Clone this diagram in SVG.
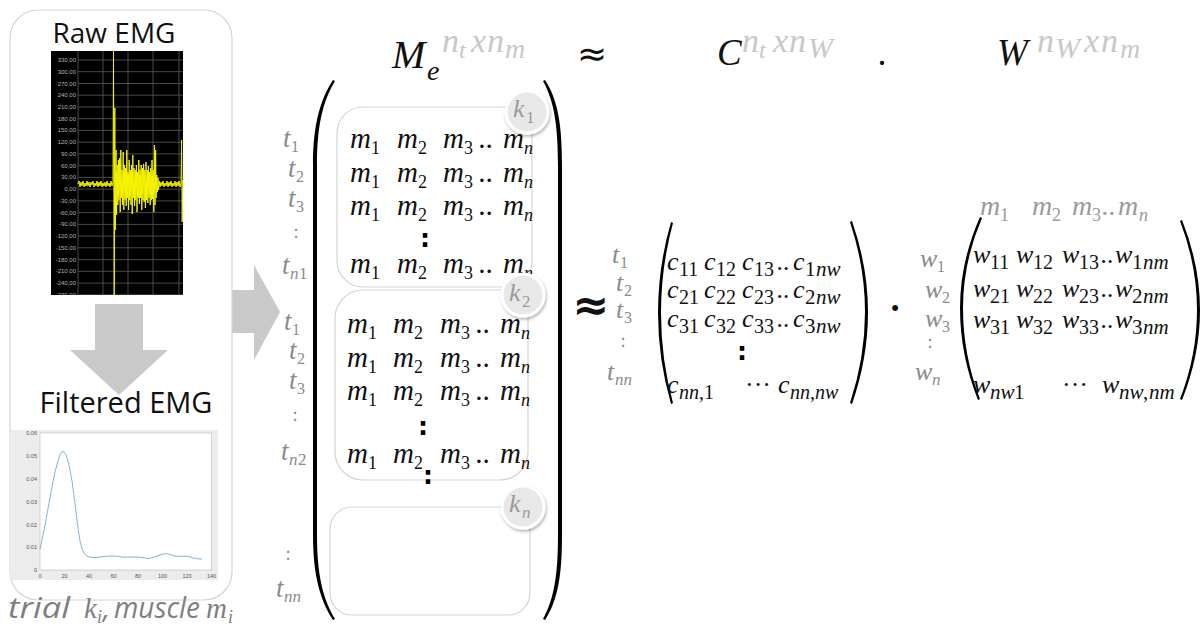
<svg xmlns="http://www.w3.org/2000/svg" width="1203" height="632" viewBox="0 0 1203 632">
<defs>
<style>
.mi{font-family:"Liberation Serif",serif;font-style:italic;fill:#111}
.up{font-style:normal}
.g{fill:#8a8a8a}
.lg{fill:#c8c8c8}
.sans{font-family:"Open Sans","Liberation Sans",sans-serif}
.box{fill:#fff;stroke:#d4d4d4;stroke-width:1.2}
.vd{font-family:"DejaVu Sans",sans-serif;font-weight:bold;fill:#000;text-anchor:middle;font-size:25px}
.gd{font-family:"DejaVu Sans",sans-serif;fill:#8a8a8a;text-anchor:middle;font-size:18px}
.arrow{fill:#c9c9c9}
.grid{stroke:#5c5c5c;stroke-width:.8}
.ax{font-family:"Liberation Sans",sans-serif;font-size:6px;fill:#b4b4b4;text-anchor:end}
.fx{font-family:"Liberation Sans",sans-serif;font-size:5.5px;fill:#555}
.paren{fill:#000}
.kc{fill:#e8e8e8;stroke:#fff;stroke-width:3;filter:url(#sh)}
.kt{font-family:"Liberation Serif",serif;font-style:italic;fill:#9a9a9a}
</style>
<filter id="sh" x="-40%" y="-40%" width="180%" height="180%">
<feDropShadow dx="1" dy="2" stdDeviation="1.8" flood-color="#000" flood-opacity="0.3"/>
</filter>
<clipPath id="rawclip"><rect x="51" y="51" width="132" height="244"/></clipPath>
</defs>
<rect width="1203" height="632" fill="#fff"/>

<g id="connectors">
<polygon class="arrow" points="95,304 143,304 143,350 168,350 119,395 70,350 95,350"/>
<polygon class="arrow" points="232,290 254,290 254,265 280,312 254,360 254,333 232,333"/>
</g>

<g id="panel-emg">
<rect x="10" y="10" width="222" height="590" rx="28" fill="none" stroke="#d4d4d4" stroke-width="1.2"/>
<text class="sans" x="114" y="43" font-size="28" text-anchor="middle" fill="#111">Raw EMG</text>
<rect x="51" y="51" width="132" height="244" fill="#000"/>
<g clip-path="url(#rawclip)">
<g class="grid">
<line x1="78" y1="60" x2="183" y2="60"/><line x1="78" y1="71.7" x2="183" y2="71.7"/><line x1="78" y1="83.5" x2="183" y2="83.5"/><line x1="78" y1="95.2" x2="183" y2="95.2"/><line x1="78" y1="107" x2="183" y2="107"/><line x1="78" y1="118.7" x2="183" y2="118.7"/><line x1="78" y1="130.4" x2="183" y2="130.4"/><line x1="78" y1="142.2" x2="183" y2="142.2"/><line x1="78" y1="153.9" x2="183" y2="153.9"/><line x1="78" y1="165.7" x2="183" y2="165.7"/><line x1="78" y1="177.4" x2="183" y2="177.4"/><line x1="78" y1="189.1" x2="183" y2="189.1"/><line x1="78" y1="200.9" x2="183" y2="200.9"/><line x1="78" y1="212.6" x2="183" y2="212.6"/><line x1="78" y1="224.4" x2="183" y2="224.4"/><line x1="78" y1="236.1" x2="183" y2="236.1"/><line x1="78" y1="247.8" x2="183" y2="247.8"/><line x1="78" y1="259.6" x2="183" y2="259.6"/><line x1="78" y1="271.3" x2="183" y2="271.3"/><line x1="78" y1="283.1" x2="183" y2="283.1"/><line x1="78" y1="294.8" x2="183" y2="294.8"/>
<line x1="78" y1="51" x2="78" y2="295"/><line x1="103" y1="51" x2="103" y2="295"/><line x1="128" y1="51" x2="128" y2="295"/><line x1="153" y1="51" x2="153" y2="295"/><line x1="179" y1="51" x2="179" y2="295"/>
</g>
<g class="ax">
<text x="76" y="62">330,00</text><text x="76" y="73.7">300,00</text><text x="76" y="85.5">270,00</text><text x="76" y="97.2">240,00</text><text x="76" y="109">210,00</text><text x="76" y="120.7">180,00</text><text x="76" y="132.4">150,00</text><text x="76" y="144.2">120,00</text><text x="76" y="155.9">90,00</text><text x="76" y="167.7">60,00</text><text x="76" y="179.4">30,00</text><text x="76" y="191.1">0,00</text><text x="76" y="202.9">-30,00</text><text x="76" y="214.6">-60,00</text><text x="76" y="226.4">-90,00</text><text x="76" y="238.1">-120,00</text><text x="76" y="249.8">-150,00</text><text x="76" y="261.6">-180,00</text><text x="76" y="273.3">-210,00</text><text x="76" y="285.1">-240,00</text><text x="76" y="296.8">-270,00</text>
</g>
<polyline fill="none" stroke="#f4f400" stroke-width="1" points="78,184 79,181 80,187 81,182 82,186 83,181 84,187 85,183 86,186 87,181 88,186 89,182 90,187 91,182 92,185 93,181 94,187 95,183 96,186 97,181 98,187 99,182 100,186 101,181 102,187 103,183 104,186 105,182 106,187 107,181 108,186 109,183 110,187 111,181 112,186 113,182 113.5,51 114.2,295 114.8,108 115.3,230 116,150 116.6,215 117.2,165 117.8,205 118.4,160 119,200 119.6,158 120.2,212 120.8,150 121.4,198 122,170 122.6,205 123.2,152 123.8,210 124.4,165 125,200 125.6,168 126.2,206 126.8,150 127.4,198 128,172 128.6,210 129.2,160 129.8,200 130.4,170 131,205 131.6,165 132.2,214 132.8,155 133.4,198 134,168 134.6,206 135.2,170 135.8,200 136.4,165 137,212 137.6,172 138.2,198 138.8,160 139.4,204 140,170 140.6,198 141.2,165 141.8,210 142.4,168 143,200 143.6,164 144.2,202 144.8,170 145.4,208 146,162 146.6,200 147.2,170 147.8,203 148.4,166 149,198 149.6,172 150.2,205 150.8,168 151.4,200 152,160 152.6,199 153.2,170 153.8,212 154.4,145 155,205 155.6,150 156.2,198 156.8,175 157.4,192 158,178 158.6,190 159.2,181 160,187 161,182 162,186 163,181 164,187 165,183 166,186 167,181 168,187 169,182 170,186 171,181 172,187 173,183 174,186 175,181 176,187 177,182 178,186 179,181 180,187 181,183 181.6,140 182.2,222 182.8,180"/>
<polyline fill="none" stroke="#f4f400" stroke-width="1.6" points="116,172 118,196 120,175 122,195 124,172 126,197 128,174 130,196 132,173 134,195 136,172 138,197 140,175 142,194 144,173 146,196 148,174 150,195 152,176 154,193 156,178"/>
</g>
<text class="sans" x="126" y="413" font-size="29" text-anchor="middle" fill="#111">Filtered EMG</text>
<rect x="10" y="430" width="208" height="150" fill="#ececec"/>
<rect x="40" y="433" width="171.7" height="137" fill="#fff" stroke="#bdbdbd" stroke-width="0.6"/>
<g class="fx" text-anchor="end">
<text x="37" y="435">0.06</text><text x="37" y="458">0.05</text><text x="37" y="481">0.04</text><text x="37" y="504">0.03</text><text x="37" y="527">0.02</text><text x="37" y="549">0.01</text><text x="37" y="572">0</text>
</g>
<g class="fx" text-anchor="middle">
<text x="40" y="578">0</text><text x="64.5" y="578">20</text><text x="89" y="578">40</text><text x="113.5" y="578">60</text><text x="138" y="578">80</text><text x="162.5" y="578">100</text><text x="187" y="578">120</text><text x="211.5" y="578">140</text>
</g>
<polyline fill="none" stroke="#7aa7d6" stroke-width="0.9" points="40,549 43,535 46,520 49,503 52,487 55,472 58,461 60,455 62,451.5 64,452 66,455 68,461 70,470 72,481 74,496 76,512 78,528 80,541 82,549 84,553.5 87,556 90,557.2 95,557.6 100,557 107,556.2 113,556 118,556.3 123,557.2 130,557 138,557 143,557.5 148,558.5 152,557.8 157,556 162,554.3 166,553.6 170,554.5 175,556.2 182,556.4 188,556.2 193,558 198,558.8 202,559"/>
<text font-size="29" fill="#7f7f7f"><tspan class="sans" x="8" y="618" font-style="italic" textLength="62" lengthAdjust="spacingAndGlyphs">trial</tspan><tspan x="84" y="618" font-family="Liberation Serif" font-style="italic">k</tspan><tspan x="97" y="623" font-family="Liberation Serif" font-style="italic" font-size="18">i</tspan><tspan class="sans" x="103" y="618" font-style="italic">,</tspan><tspan class="sans" x="114" y="618" font-style="italic" textLength="86" lengthAdjust="spacingAndGlyphs">muscle</tspan><tspan x="206" y="618" font-family="Liberation Serif" font-style="italic">m</tspan><tspan x="228" y="623" font-family="Liberation Serif" font-style="italic" font-size="18">i</tspan></text>
</g>

<g id="header">
<text class="mi" font-size="40" x="392" y="68">M</text>
<text class="mi" font-size="28" x="427" y="80">e</text>
<text class="mi lg" font-size="34"><tspan x="442" y="52">n</tspan><tspan x="459" y="58" font-size="24">t</tspan><tspan x="471" y="52">x</tspan><tspan x="487" y="52">n</tspan><tspan x="505" y="58" font-size="28">m</tspan></text>
<text x="592" y="66" font-family="DejaVu Sans" font-size="36" text-anchor="middle" fill="#111">≈</text>
<text class="mi" font-size="37" x="717" y="65">C</text>
<text class="mi lg" font-size="34"><tspan x="742" y="52">n</tspan><tspan x="759" y="58" font-size="24">t</tspan><tspan x="773" y="52">x</tspan><tspan x="789" y="52">n</tspan><tspan x="808" y="58" font-size="30">W</tspan></text>
<text x="882" y="65" font-family="Liberation Serif" font-size="36" text-anchor="middle" fill="#111">.</text>
<text class="mi" font-size="37" x="997" y="65">W</text>
<text class="mi lg" font-size="34"><tspan x="1037" y="52">n</tspan><tspan x="1055" y="58" font-size="30">W</tspan><tspan x="1084" y="52">x</tspan><tspan x="1101" y="52">n</tspan><tspan x="1120" y="58" font-size="28">m</tspan></text>
</g>

<g id="matrix-Me">
<path class="paren" d="M333,80 C320,100 313,125 313,165 L313,535 C313,575 320,600 333,620 L335,619 C323,599 317,575 317,535 L317,165 C317,125 323,101 335,81 Z"/>
<path class="paren" d="M545,80 C558,100 562,125 562,165 L562,535 C562,575 558,600 545,620 L543,619 C554,599 558,575 558,535 L558,165 C558,125 554,101 543,81 Z"/>
<rect class="box" x="337" y="107" width="195" height="180" rx="26"/>
<rect class="box" x="335" y="290" width="193" height="190" rx="28"/>
<rect class="box" x="330" y="507" width="200" height="108" rx="22"/>
<g class="mi" font-size="29">
<text><tspan x="350" y="148">m</tspan><tspan class="up" x="371" y="154" font-size="18">1</tspan><tspan x="397" y="148">m</tspan><tspan class="up" x="418" y="154" font-size="18">2</tspan><tspan x="443" y="148">m</tspan><tspan class="up" x="464" y="154" font-size="18">3</tspan><tspan x="479" y="148">..</tspan><tspan x="503" y="148">m</tspan><tspan x="524" y="154" font-size="18">n</tspan></text>
<text><tspan x="350" y="182">m</tspan><tspan class="up" x="371" y="188" font-size="18">1</tspan><tspan x="397" y="182">m</tspan><tspan class="up" x="418" y="188" font-size="18">2</tspan><tspan x="443" y="182">m</tspan><tspan class="up" x="464" y="188" font-size="18">3</tspan><tspan x="479" y="182">..</tspan><tspan x="503" y="182">m</tspan><tspan x="524" y="188" font-size="18">n</tspan></text>
<text><tspan x="350" y="215">m</tspan><tspan class="up" x="371" y="221" font-size="18">1</tspan><tspan x="397" y="215">m</tspan><tspan class="up" x="418" y="221" font-size="18">2</tspan><tspan x="443" y="215">m</tspan><tspan class="up" x="464" y="221" font-size="18">3</tspan><tspan x="479" y="215">..</tspan><tspan x="503" y="215">m</tspan><tspan x="524" y="221" font-size="18">n</tspan></text>
<text><tspan x="350" y="273">m</tspan><tspan class="up" x="371" y="279" font-size="18">1</tspan><tspan x="397" y="273">m</tspan><tspan class="up" x="418" y="279" font-size="18">2</tspan><tspan x="443" y="273">m</tspan><tspan class="up" x="464" y="279" font-size="18">3</tspan><tspan x="479" y="273">..</tspan><tspan x="503" y="273">m</tspan><tspan x="524" y="279" font-size="18">n</tspan></text>
<text><tspan x="347" y="333">m</tspan><tspan class="up" x="368" y="339" font-size="18">1</tspan><tspan x="393" y="333">m</tspan><tspan class="up" x="414" y="339" font-size="18">2</tspan><tspan x="440" y="333">m</tspan><tspan class="up" x="461" y="339" font-size="18">3</tspan><tspan x="476" y="333">..</tspan><tspan x="500" y="333">m</tspan><tspan x="521" y="339" font-size="18">n</tspan></text>
<text><tspan x="347" y="367">m</tspan><tspan class="up" x="368" y="373" font-size="18">1</tspan><tspan x="393" y="367">m</tspan><tspan class="up" x="414" y="373" font-size="18">2</tspan><tspan x="440" y="367">m</tspan><tspan class="up" x="461" y="373" font-size="18">3</tspan><tspan x="476" y="367">..</tspan><tspan x="500" y="367">m</tspan><tspan x="521" y="373" font-size="18">n</tspan></text>
<text><tspan x="347" y="400">m</tspan><tspan class="up" x="368" y="406" font-size="18">1</tspan><tspan x="393" y="400">m</tspan><tspan class="up" x="414" y="406" font-size="18">2</tspan><tspan x="440" y="400">m</tspan><tspan class="up" x="461" y="406" font-size="18">3</tspan><tspan x="476" y="400">..</tspan><tspan x="500" y="400">m</tspan><tspan x="521" y="406" font-size="18">n</tspan></text>
<text><tspan x="347" y="463">m</tspan><tspan class="up" x="368" y="469" font-size="18">1</tspan><tspan x="393" y="463">m</tspan><tspan class="up" x="414" y="469" font-size="18">2</tspan><tspan x="440" y="463">m</tspan><tspan class="up" x="461" y="469" font-size="18">3</tspan><tspan x="476" y="463">..</tspan><tspan x="500" y="463">m</tspan><tspan x="521" y="469" font-size="18">n</tspan></text>
</g>
<text class="vd" x="425" y="247">:</text>
<text class="vd" x="423" y="435">:</text>
<text class="vd" x="428" y="484">:</text>
<g class="mi g" font-size="27">
<text><tspan x="283" y="147">t</tspan><tspan class="up" x="291" y="152" font-size="16">1</tspan></text>
<text><tspan x="288" y="177">t</tspan><tspan class="up" x="296" y="182" font-size="16">2</tspan></text>
<text><tspan x="288" y="207">t</tspan><tspan class="up" x="296" y="212" font-size="16">3</tspan></text>
<text><tspan x="282" y="274">t</tspan><tspan x="290" y="279" font-size="17">n</tspan><tspan class="up" x="299" y="279" font-size="17">1</tspan></text>
<text><tspan x="284" y="330">t</tspan><tspan class="up" x="292" y="335" font-size="16">1</tspan></text>
<text><tspan x="289" y="359">t</tspan><tspan class="up" x="297" y="364" font-size="16">2</tspan></text>
<text><tspan x="289" y="389">t</tspan><tspan class="up" x="297" y="394" font-size="16">3</tspan></text>
<text><tspan x="281" y="460">t</tspan><tspan x="289" y="465" font-size="17">n</tspan><tspan class="up" x="298" y="465" font-size="17">2</tspan></text>
<text><tspan x="276" y="597">t</tspan><tspan x="284" y="602" font-size="17">nn</tspan></text>
</g>
<text class="gd" x="296" y="238">:</text>
<text class="gd" x="295" y="421">:</text>
<text class="gd" x="288" y="560">:</text>
<circle class="kc" cx="527" cy="112" r="21"/>
<text class="kt" font-size="26"><tspan x="513" y="117">k</tspan><tspan x="526" y="123" font-size="17" font-style="normal">1</tspan></text>
<circle class="kc" cx="523" cy="295" r="21"/>
<text class="kt" font-size="26"><tspan x="509" y="301">k</tspan><tspan x="522" y="307" font-size="17" font-style="normal">2</tspan></text>
<circle class="kc" cx="523" cy="507" r="21"/>
<text class="kt" font-size="26"><tspan x="509" y="512">k</tspan><tspan x="522" y="518" font-size="17">n</tspan></text>
</g>

<g id="matrix-C">
<text x="591" y="320" font-family="DejaVu Sans" font-weight="bold" font-size="44" text-anchor="middle" fill="#111">≈</text>
<path class="paren" d="M671,222 Q658,267 658,313 Q658,359 671,404 L673,403 Q661,359 661,313 Q661,267 673,223 Z"/>
<path class="paren" d="M852,221 Q868,267 868,312 Q868,358 852,404 L850,403 Q865,358 865,312 Q865,267 850,222 Z"/>
<g class="mi g" font-size="26">
<text><tspan x="612" y="263">t</tspan><tspan class="up" x="620" y="268" font-size="16">1</tspan></text>
<text><tspan x="616" y="291">t</tspan><tspan class="up" x="624" y="296" font-size="16">2</tspan></text>
<text><tspan x="616" y="318">t</tspan><tspan class="up" x="624" y="323" font-size="16">3</tspan></text>
<text><tspan x="607" y="380">t</tspan><tspan x="615" y="385" font-size="17">nn</tspan></text>
</g>
<text class="gd" x="623" y="347">:</text>
<g class="mi" font-size="26">
<text><tspan x="667" y="270">c</tspan><tspan class="up" x="679" y="276" font-size="20">11</tspan><tspan x="704" y="270">c</tspan><tspan class="up" x="716" y="276" font-size="20">12</tspan><tspan x="742" y="270">c</tspan><tspan class="up" x="754" y="276" font-size="20">13</tspan><tspan x="777" y="270">..</tspan><tspan x="793" y="270">c</tspan><tspan class="up" x="805" y="276" font-size="21">1</tspan><tspan x="816" y="276" font-size="21">nw</tspan></text>
<text><tspan x="667" y="298">c</tspan><tspan class="up" x="679" y="304" font-size="20">21</tspan><tspan x="704" y="298">c</tspan><tspan class="up" x="716" y="304" font-size="20">22</tspan><tspan x="742" y="298">c</tspan><tspan class="up" x="754" y="304" font-size="20">23</tspan><tspan x="777" y="298">..</tspan><tspan x="793" y="298">c</tspan><tspan class="up" x="805" y="304" font-size="21">2</tspan><tspan x="816" y="304" font-size="21">nw</tspan></text>
<text><tspan x="667" y="327">c</tspan><tspan class="up" x="679" y="333" font-size="20">31</tspan><tspan x="704" y="327">c</tspan><tspan class="up" x="716" y="333" font-size="20">32</tspan><tspan x="742" y="327">c</tspan><tspan class="up" x="754" y="333" font-size="20">33</tspan><tspan x="777" y="327">..</tspan><tspan x="793" y="327">c</tspan><tspan class="up" x="805" y="333" font-size="21">3</tspan><tspan x="816" y="333" font-size="21">nw</tspan></text>
<text><tspan x="667" y="393">c</tspan><tspan x="679" y="399" font-size="20">nn</tspan><tspan class="up" x="699" y="399" font-size="20">,1</tspan><tspan class="up" x="745" y="393">···</tspan><tspan x="778" y="393">c</tspan><tspan x="790" y="399" font-size="20">nn</tspan><tspan class="up" x="810" y="399" font-size="20">,</tspan><tspan x="815" y="399" font-size="20">nw</tspan></text>
</g>
<text class="vd" x="742" y="360">:</text>
</g>

<g id="matrix-W">
<text x="895" y="315" font-family="Liberation Sans" font-size="22" text-anchor="middle" fill="#111">•</text>
<path class="paren" d="M980,217 Q960,262 960,308 Q960,355 978,400 L980,399 Q963,355 963,308 Q963,262 982,218 Z"/>
<path class="paren" d="M1182,220 Q1200,265 1200,310 Q1200,355 1182,400 L1180,399 Q1197,355 1197,310 Q1197,265 1180,221 Z"/>
<g class="mi" font-size="28" style="fill:#9a9a9a">
<text><tspan x="980" y="215">m</tspan><tspan class="up" x="1000" y="221" font-size="18">1</tspan><tspan x="1032" y="215">m</tspan><tspan class="up" x="1052" y="221" font-size="18">2</tspan><tspan x="1072" y="215">m</tspan><tspan class="up" x="1092" y="221" font-size="18">3</tspan><tspan x="1102" y="215">..</tspan><tspan x="1118" y="215">m</tspan><tspan x="1139" y="221" font-size="18">n</tspan></text>
</g>
<g class="mi g" font-size="26">
<text><tspan x="920" y="267">w</tspan><tspan class="up" x="937" y="272" font-size="16">1</tspan></text>
<text><tspan x="925" y="298">w</tspan><tspan class="up" x="942" y="303" font-size="16">2</tspan></text>
<text><tspan x="925" y="327">w</tspan><tspan class="up" x="942" y="332" font-size="16">3</tspan></text>
<text><tspan x="915" y="380">w</tspan><tspan x="932" y="385" font-size="17">n</tspan></text>
</g>
<text class="gd" x="930" y="348">:</text>
<g class="mi" font-size="26">
<text><tspan x="973" y="263">w</tspan><tspan class="up" x="990" y="269" font-size="20">11</tspan><tspan x="1016" y="263">w</tspan><tspan class="up" x="1033" y="269" font-size="20">12</tspan><tspan x="1062" y="263">w</tspan><tspan class="up" x="1079" y="269" font-size="20">13</tspan><tspan x="1101" y="263">..</tspan><tspan x="1115" y="263">w</tspan><tspan class="up" x="1132" y="269" font-size="21">1</tspan><tspan x="1143" y="269" font-size="21">nm</tspan></text>
<text><tspan x="973" y="297">w</tspan><tspan class="up" x="990" y="303" font-size="20">21</tspan><tspan x="1016" y="297">w</tspan><tspan class="up" x="1033" y="303" font-size="20">22</tspan><tspan x="1062" y="297">w</tspan><tspan class="up" x="1079" y="303" font-size="20">23</tspan><tspan x="1101" y="297">..</tspan><tspan x="1115" y="297">w</tspan><tspan class="up" x="1132" y="303" font-size="21">2</tspan><tspan x="1143" y="303" font-size="21">nm</tspan></text>
<text><tspan x="973" y="328">w</tspan><tspan class="up" x="990" y="334" font-size="20">31</tspan><tspan x="1016" y="328">w</tspan><tspan class="up" x="1033" y="334" font-size="20">32</tspan><tspan x="1062" y="328">w</tspan><tspan class="up" x="1079" y="334" font-size="20">33</tspan><tspan x="1101" y="328">..</tspan><tspan x="1115" y="328">w</tspan><tspan class="up" x="1132" y="334" font-size="21">3</tspan><tspan x="1143" y="334" font-size="21">nm</tspan></text>
<text><tspan x="973" y="393">w</tspan><tspan x="990" y="399" font-size="21">nw</tspan><tspan class="up" x="1014" y="399" font-size="21">1</tspan><tspan class="up" x="1062" y="393">···</tspan><tspan x="1102" y="393">w</tspan><tspan x="1119" y="399" font-size="21">nw</tspan><tspan class="up" x="1143" y="399" font-size="21">,</tspan><tspan x="1149" y="399" font-size="21">nm</tspan></text>
</g>
</g>
</svg>
